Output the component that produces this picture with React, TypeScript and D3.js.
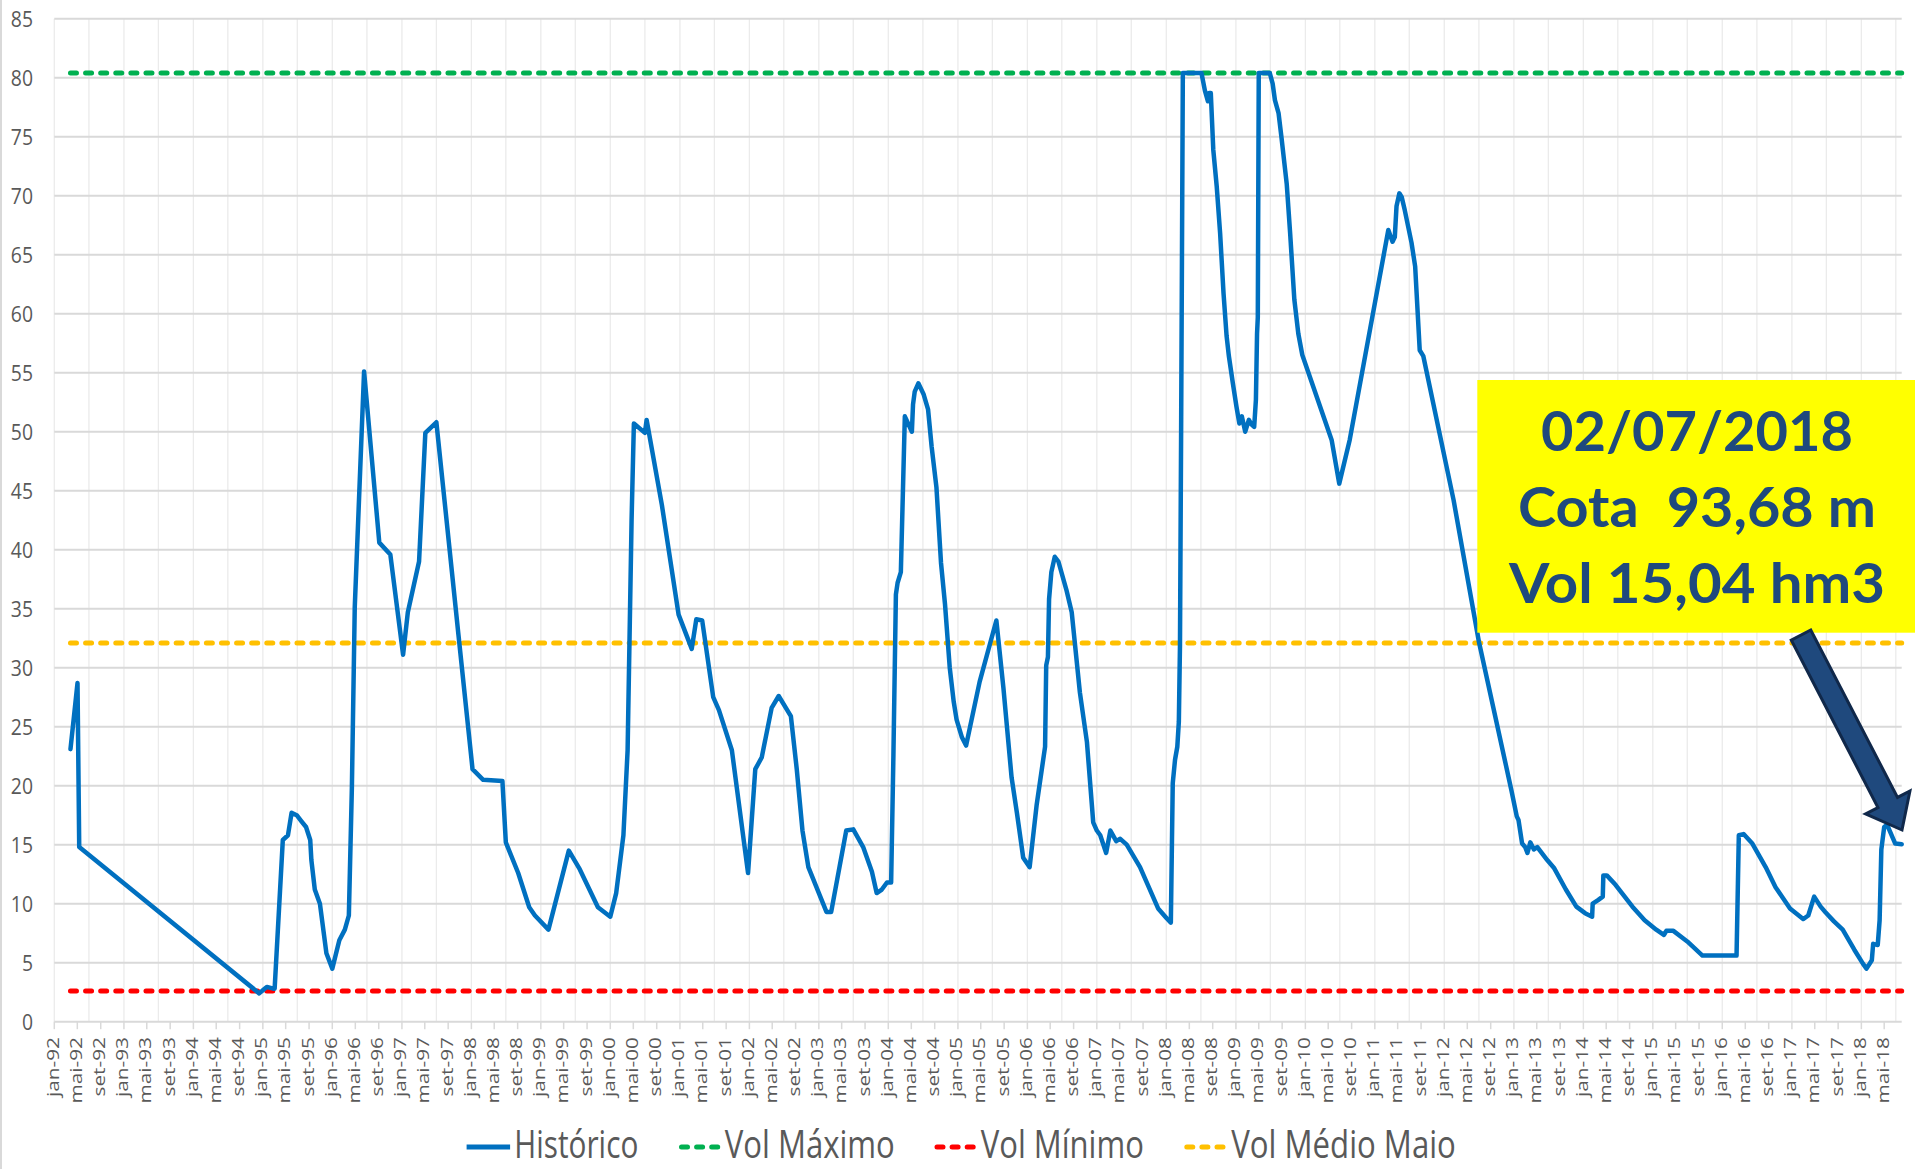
import React from "react";
import * as d3 from "d3";

// ---------- DATA ----------
const histDates: string[] = [
  "1992-03-26","1992-05-02","1992-05-11","1994-12-13","1995-01-04","1995-01-22","1995-02-25","1995-03-04",
  "1995-04-16","1995-05-13","1995-06-01","1995-06-28","1995-07-22","1995-08-16","1995-09-07","1995-09-13",
  "1995-10-01","1995-10-28","1995-12-01","1996-01-01","1996-02-07","1996-03-07","1996-03-28","1996-04-13",
  "1996-04-28","1996-06-16","1996-09-04","1996-11-01","1997-01-07","1997-02-01","1997-04-01","1997-05-04",
  "1997-07-01","1997-10-25","1998-01-07","1998-03-04","1998-06-13","1998-07-01","1998-09-04","1998-11-01",
  "1998-12-01","1999-02-10","1999-05-28","1999-07-25","1999-10-28","2000-01-01","2000-02-01","2000-03-10",
  "2000-04-01","2000-04-22","2000-05-04","2000-07-01","2000-07-10","2000-09-28","2000-12-25","2001-03-04",
  "2001-03-28","2001-04-28","2001-06-25","2001-07-25","2001-10-01","2001-12-25","2002-02-01","2002-03-07",
  "2002-04-28","2002-06-04","2002-08-07","2002-09-07","2002-10-07","2002-11-07","2003-02-10","2003-03-07",
  "2003-05-25","2003-07-01","2003-08-22","2003-10-07","2003-11-01","2003-11-28","2003-12-25","2004-01-16",
  "2004-01-28","2004-02-10","2004-02-19","2004-03-07","2004-03-28","2004-05-04","2004-05-10","2004-05-19",
  "2004-06-07","2004-07-04","2004-07-28","2004-08-16","2004-09-10","2004-10-04","2004-10-25","2004-11-19",
  "2004-12-10","2004-12-25","2005-01-22","2005-02-13","2005-04-25","2005-07-22","2005-08-28","2005-10-10",
  "2005-11-07","2005-12-10","2006-01-13","2006-02-19","2006-04-04","2006-04-10","2006-04-19","2006-04-25",
  "2006-05-07","2006-05-25","2006-06-13","2006-07-25","2006-08-22","2006-10-04","2006-11-10","2006-12-13",
  "2007-01-01","2007-01-19","2007-02-19","2007-03-13","2007-04-13","2007-05-04","2007-06-07","2007-08-16",
  "2007-11-19","2008-01-04","2008-01-25","2008-02-04","2008-02-16","2008-02-28","2008-03-07","2008-03-13",
  "2008-03-19","2008-03-28","2008-07-04","2008-07-22","2008-08-07","2008-08-13","2008-08-22","2008-09-04",
  "2008-09-22","2008-10-10","2008-10-28","2008-11-13","2008-11-25","2008-12-16","2009-01-04","2009-01-19",
  "2009-02-01","2009-02-19","2009-03-10","2009-03-25","2009-04-07","2009-04-16","2009-04-22","2009-04-26",
  "2009-05-01","2009-06-28","2009-07-13","2009-07-25","2009-08-13","2009-08-28","2009-09-25","2009-10-13",
  "2009-11-04","2009-11-25","2009-12-16","2010-05-19","2010-06-28","2010-08-22","2011-03-13","2011-04-04",
  "2011-04-16","2011-04-25","2011-05-10","2011-05-22","2011-06-07","2011-06-25","2011-07-13","2011-08-01",
  "2011-08-25","2011-09-13","2012-02-19","2012-07-01","2012-12-19","2013-01-16","2013-01-25","2013-02-13",
  "2013-03-01","2013-03-13","2013-03-28","2013-04-16","2013-05-04","2013-06-25","2013-08-01","2013-10-01",
  "2013-11-25","2014-01-10","2014-02-16","2014-02-19","2014-03-19","2014-04-13","2014-04-16","2014-05-04",
  "2014-06-19","2014-09-16","2014-11-19","2015-01-19","2015-02-28","2015-03-13","2015-04-19","2015-07-01",
  "2015-09-19","2016-03-16","2016-03-28","2016-04-22","2016-06-07","2016-08-16","2016-10-07","2016-12-22",
  "2017-03-01","2017-03-28","2017-04-28","2017-06-01","2017-06-25","2017-08-10","2017-09-25","2017-11-25",
  "2018-01-10","2018-01-28","2018-02-25","2018-03-04","2018-03-28","2018-04-07","2018-04-16","2018-05-01",
  "2018-05-16","2018-06-28","2018-08-01"
];
const histValues: number[] = [
  23.1,28.7,14.8,2.4,2.7,2.95,2.8,2.8,
  15.4,15.8,17.7,17.5,17.0,16.5,15.4,13.7,
  11.2,10.0,5.8,4.5,6.9,7.8,9.0,19.9,
  35.1,55.1,40.6,39.6,31.1,34.7,39.0,49.9,
  50.8,32.8,21.4,20.5,20.4,15.2,12.6,9.7,
  9.0,7.8,14.5,12.9,9.7,8.9,10.9,15.8,
  23.0,42.6,50.7,49.9,51.0,43.8,34.5,31.6,
  34.1,34.0,27.5,26.4,23.0,12.6,21.4,22.4,
  26.6,27.6,25.9,21.4,16.2,13.1,9.3,9.3,
  16.2,16.3,14.8,12.7,10.9,11.2,11.8,11.8,
  22.6,36.2,37.2,38.1,51.3,50.0,52.3,53.4,
  54.1,53.2,51.9,48.7,45.3,38.9,35.4,30.0,
  27.1,25.6,24.1,23.4,28.8,34.0,28.3,20.7,
  17.7,13.9,13.1,18.4,23.3,30.2,30.9,35.8,
  38.1,39.4,39.0,36.6,34.7,27.9,23.7,16.9,
  16.2,15.8,14.3,16.2,15.3,15.5,15.0,13.1,
  9.6,8.75,8.4,20.2,22.2,23.3,25.4,31.9,
  50.0,80.4,80.4,78.9,78.0,78.7,78.7,73.9,
  70.8,66.8,61.7,58.1,56.4,54.1,52.1,50.7,
  51.3,50.0,51.0,50.6,50.4,52.7,58.3,59.7,
  80.4,80.4,79.5,78.1,77.0,75.0,71.0,66.8,
  61.2,58.3,56.5,49.3,45.6,49.3,67.1,66.1,
  66.5,69.1,70.2,69.9,68.8,67.4,66.0,64.0,
  56.9,56.4,44.2,32.2,19.6,17.4,17.1,15.1,
  14.8,14.3,15.2,14.6,14.8,13.7,13.0,11.2,
  9.75,9.2,8.9,10.0,10.3,10.6,12.4,12.4,
  11.6,9.75,8.6,7.8,7.35,7.7,7.7,6.8,
  5.6,5.6,15.8,15.9,15.1,13.1,11.4,9.6,
  8.7,9.0,10.6,9.75,9.3,8.5,7.8,6.1,
  4.9,4.5,5.2,6.6,6.5,8.6,14.6,16.5,
  16.7,15.1,15.04
];

const refNames: string[] = ["Vol Máximo", "Vol Mínimo", "Vol Médio Maio"];
const refValues: number[] = [80.4, 2.6, 32.1];

const yTickValues: number[] = d3.range(0, 86, 5);
const monthNames: string[] = ["jan","fev","mar","abr","mai","jun","jul","ago","set","out","nov","dez"];
const legendLabels: string[] = ["Histórico", "Vol Máximo", "Vol Mínimo", "Vol Médio Maio"];
const annotationLines: string[] = ["02/07/2018", "Cota  93,68 m", "Vol 15,04 hm3"];

const axisStart = "1992-01-01";
const axisEnd = "2018-08-01";

// ---------- STYLE ----------
const W = 1915, H = 1169;
const plot = { left: 54.3, right: 1901.7, top: 18.7, bottom: 1021.7 };
const blue = "#0070C0";
const refColors = ["#00B050", "#FF0000", "#FFC000"];
const labelColor = "#595959";
const font = "'Open Sans', 'Noto Sans', sans-serif";

const parse = d3.timeParse("%Y-%m-%d");

export default function App() {
  React.useEffect(() => {
    document.body.style.margin = "0";
  }, []);

  const start = parse(axisStart)!;
  const end = parse(axisEnd)!;
  const x = d3.scaleTime().domain([start, end]).range([plot.left, plot.right]);
  const y = d3.scaleLinear().domain([0, 85]).range([plot.bottom, plot.top]);

  const pts: [Date, number][] = histDates.map((d, i) => [parse(d)!, histValues[i]]);
  const line = d3
    .line<[Date, number]>()
    .x((d) => x(d[0]))
    .y((d) => y(d[1]));

  const firstDate = pts[0][0];
  const lastDate = pts[pts.length - 1][0];

  const xTicks = d3.timeMonth.every(4)!.range(start, end);
  const vGrid = d3.timeMonth.every(6)!.range(start, d3.timeDay.offset(end, 1));

  const fmt = (d: Date) =>
    `${monthNames[d.getMonth()]}-${String(d.getFullYear() % 100).padStart(2, "0")}`;

  // arrow geometry (annotation)
  const tail = [1801, 635];
  const tip = [1902, 830];
  const dx = tip[0] - tail[0], dy = tip[1] - tail[1];
  const len = Math.hypot(dx, dy);
  const u = [dx / len, dy / len];
  const n = [-u[1], u[0]];
  const sw = 11, hw = 25, hl = 31;
  const hb = [tip[0] - u[0] * hl, tip[1] - u[1] * hl];
  const arrowPts = [
    [tail[0] + n[0] * sw, tail[1] + n[1] * sw],
    [hb[0] + n[0] * sw, hb[1] + n[1] * sw],
    [hb[0] + n[0] * hw, hb[1] + n[1] * hw],
    tip,
    [hb[0] - n[0] * hw, hb[1] - n[1] * hw],
    [hb[0] - n[0] * sw, hb[1] - n[1] * sw],
    [tail[0] - n[0] * sw, tail[1] - n[1] * sw],
  ]
    .map((p) => p.join(","))
    .join(" ");

  // legend layout (measured positions)
  const legendY = 1147;
  const legendBase = 1158;
  const legendItems = [
    { sx: 466.6, ex: 510.1, tx: 514.3, tl: 124, dashed: false, color: blue },
    { sx: 681.5, ex: 718.5, tx: 724.8, tl: 170, dashed: true, color: refColors[0] },
    { sx: 937, ex: 974, tx: 980.8, tl: 163, dashed: true, color: refColors[1] },
    { sx: 1186.8, ex: 1223.8, tx: 1231.3, tl: 224.5, dashed: true, color: refColors[2] },
  ];

  const annBaselines = [451, 527, 603];
  const annWidths = [312, 358, 376];

  return (
    <svg
      width={W}
      height={H}
      style={{ position: "absolute", left: 0, top: 0, background: "#fff" }}
      fontFamily={font}
    >
      <rect x={0} y={0} width={W} height={H} fill="#fff" />
      <line x1={1} x2={1} y1={0} y2={H} stroke="#D9D9D9" strokeWidth={2} />

      {/* vertical gridlines */}
      {vGrid.map((d, i) => (
        <line
          key={"vg" + i}
          x1={x(d)}
          x2={x(d)}
          y1={plot.top}
          y2={plot.bottom}
          stroke="#EBEBEB"
          strokeWidth={1.3}
        />
      ))}
      {/* horizontal gridlines */}
      {yTickValues.map((v) => (
        <line
          key={"hg" + v}
          x1={plot.left}
          x2={plot.right}
          y1={y(v)}
          y2={y(v)}
          stroke="#D9D9D9"
          strokeWidth={2}
        />
      ))}
      {/* y labels */}
      {yTickValues.map((v) => (
        <g key={"yl" + v} transform={`translate(33,${y(v) + 8}) scale(0.88,1)`}>
          <text textAnchor="end" fontSize={22} fill={labelColor}>
            {v}
          </text>
        </g>
      ))}
      {/* x ticks & labels */}
      {xTicks.map((d, i) => (
        <g key={"xt" + i}>
          <line
            x1={x(d)}
            x2={x(d)}
            y1={plot.bottom}
            y2={plot.bottom + 7.5}
            stroke="#D9D9D9"
            strokeWidth={1.5}
          />
          <g transform={`translate(${x(d) + 4.5},1037) rotate(-90) scale(1.3,1)`}>
            <text textAnchor="end" fontSize={16} fill={labelColor}>
              {fmt(d)}
            </text>
          </g>
        </g>
      ))}

      {/* reference dashed lines */}
      {refValues.map((v, i) => (
        <line
          key={"ref" + i}
          x1={x(firstDate)}
          x2={x(lastDate)}
          y1={y(v)}
          y2={y(v)}
          stroke={refColors[i]}
          strokeWidth={5}
          strokeDasharray="6,9.1"
          strokeLinecap="round"
        >
          <title>{refNames[i]}</title>
        </line>
      ))}

      {/* historical line */}
      <path
        d={line(pts) || ""}
        fill="none"
        stroke={blue}
        strokeWidth={4.5}
        strokeLinejoin="round"
        strokeLinecap="round"
      />

      {/* annotation box */}
      <rect x={1477.3} y={380} width={W - 1477.3} height={252.7} fill="#FFFF00" />
      {annotationLines.map((t, i) => (
        <text
          key={"ann" + i}
          x={1697}
          y={annBaselines[i]}
          textAnchor="middle"
          fontFamily="Lato, 'Open Sans', sans-serif"
          fontWeight={700}
          fontSize={56}
          fill="#1F497D"
          textLength={annWidths[i]}
          lengthAdjust="spacingAndGlyphs"
          style={{ whiteSpace: "pre" }}
        >
          {t}
        </text>
      ))}
      {/* arrow */}
      <polygon points={arrowPts} fill="#1F497D" stroke="#10284A" strokeWidth={3} strokeLinejoin="miter" />

      {/* legend */}
      {legendItems.map((it, i) => (
        <g key={"lg" + i}>
          <line
            x1={it.sx}
            x2={it.ex}
            y1={legendY}
            y2={legendY}
            stroke={it.color}
            strokeWidth={5}
            strokeDasharray={it.dashed ? "6,9.1" : undefined}
            strokeLinecap={it.dashed ? "round" : "butt"}
          />
          <text
            x={it.tx}
            y={legendBase}
            fontSize={38}
            fill={labelColor}
            textLength={it.tl}
            lengthAdjust="spacingAndGlyphs"
          >
            {legendLabels[i]}
          </text>
        </g>
      ))}
    </svg>
  );
}
